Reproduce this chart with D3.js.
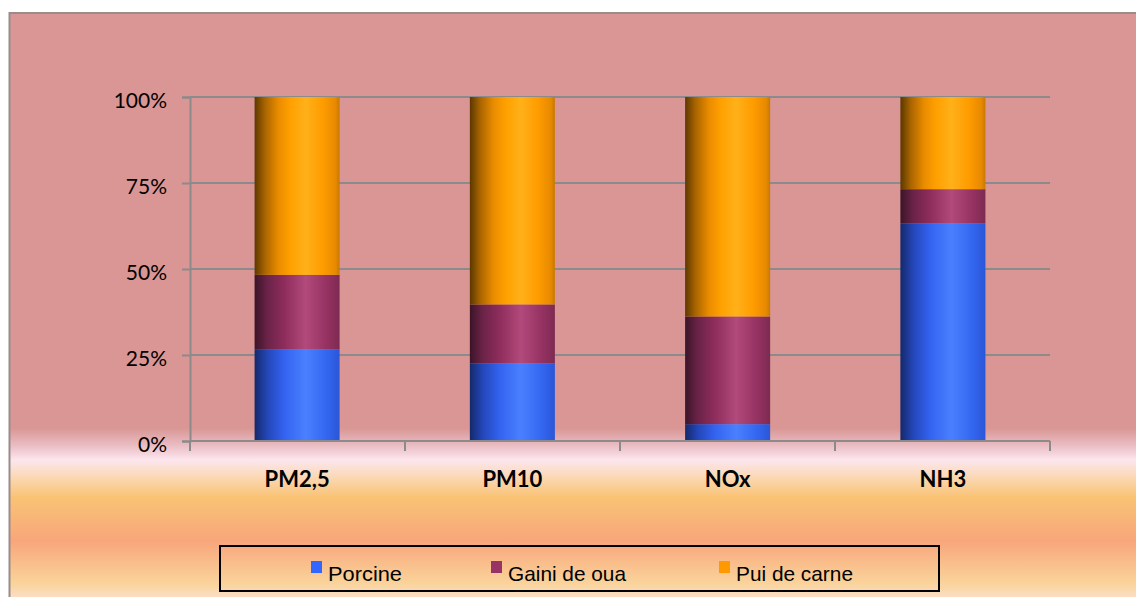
<!DOCTYPE html>
<html>
<head>
<meta charset="utf-8">
<script src="https://cdn.jsdelivr.net/npm/d3@7"></script>
<style>
  html, body { margin: 0; padding: 0; background: #ffffff; }
  svg { display: block; }
</style>
</head>
<body>
<svg id="chart" width="1136" height="597"></svg>
<script>
// ---- data ----
const categories = ["PM2,5", "PM10", "NOx", "NH3"];
const seriesNames = ["Porcine", "Gaini de oua", "Pui de carne"];
const porcine   = [26.7, 22.6, 4.9, 63.3];
const gainiDeOua = [21.6, 17.1, 31.3, 9.9];
const puiDeCarne = [51.7, 60.3, 63.8, 26.8];
const yTicks = [0, 0.25, 0.5, 0.75, 1];

const rows = categories.map((c, i) => ({
  cat: c,
  "Porcine": porcine[i],
  "Gaini de oua": gainiDeOua[i],
  "Pui de carne": puiDeCarne[i]
}));
rows.forEach(r => {
  const t = seriesNames.reduce((s, k) => s + r[k], 0);
  seriesNames.forEach(k => r[k] = r[k] / t);
});

const svg = d3.select("#chart");
const defs = svg.append("defs");

// background gradient
const bg = defs.append("linearGradient").attr("id", "bgGrad")
  .attr("gradientUnits", "userSpaceOnUse")
  .attr("x1", 0).attr("y1", 0).attr("x2", 0).attr("y2", 597);
[[0, "#D99694"], [428, "#D99694"], [445, "#E9BCC2"], [460, "#FCE6EF"],
 [476, "#FBD9B8"], [497, "#F9C375"], [541, "#F8A67B"], [583, "#FAD39A"], [597, "#FBDDC4"]]
  .forEach(([o, c]) => bg.append("stop").attr("offset", o / 597).attr("stop-color", c));

svg.append("rect").attr("x", 9).attr("y", 13).attr("width", 1140).attr("height", 600)
  .attr("fill", "url(#bgGrad)");
svg.append("line").attr("x1", 9.5).attr("x2", 9.5).attr("y1", 12).attr("y2", 597)
  .attr("stroke", "#9a8c8c").attr("stroke-width", 2);
svg.append("line").attr("x1", 9).attr("x2", 1136).attr("y1", 13).attr("y2", 13)
  .attr("stroke", "#9a8c8c").attr("stroke-width", 2);

// bar gradients
const barGrads = {
  "Porcine": [[0, "#14296b"], [0.15, "#2446b8"], [0.35, "#3363f0"], [0.6, "#4a80ff"], [0.85, "#3366f0"], [1, "#2b56d6"]],
  "Gaini de oua": [[0, "#3b1428"], [0.15, "#6b2348"], [0.35, "#8e2d5c"], [0.6, "#b24a7c"], [0.85, "#953262"], [1, "#7d2a52"]],
  "Pui de carne": [[0, "#5c3800"], [0.12, "#a86400"], [0.28, "#ea8c00"], [0.42, "#ffa000"], [0.6, "#ffb11a"], [0.8, "#ff9c00"], [0.95, "#e88a00"], [1, "#c87800"]]
};
const flatColors = { "Porcine": "#3366FF", "Gaini de oua": "#993366", "Pui de carne": "#FF9900" };
seriesNames.forEach((k, i) => {
  const g = defs.append("linearGradient").attr("id", "bar" + i)
    .attr("x1", 0).attr("y1", 0).attr("x2", 1).attr("y2", 0);
  barGrads[k].forEach(([o, c]) => g.append("stop").attr("offset", o).attr("stop-color", c));
});

// scales
const x = d3.scaleBand().domain(categories).range([190, 1050]).paddingInner(0.605).paddingOuter(0.3);
const y = d3.scaleLinear().domain([0, 1]).range([441, 97]);

// gridlines
svg.append("g").selectAll("line").data(yTicks.filter(t => t > 0)).join("line")
  .attr("x1", 190).attr("x2", 1050)
  .attr("y1", d => y(d)).attr("y2", d => y(d))
  .attr("stroke", "#8c8a8a").attr("stroke-width", 2);

// bars
const stack = d3.stack().keys(seriesNames)(rows);
svg.append("g").selectAll("g").data(stack).join("g")
  .attr("fill", (d, i) => `url(#bar${i})`)
  .selectAll("rect").data(d => d).join("rect")
  .attr("x", d => x(d.data.cat))
  .attr("width", x.bandwidth())
  .attr("y", d => y(d[1]))
  .attr("height", d => y(d[0]) - y(d[1]));

// y axis
const yAxis = d3.axisLeft(y).tickValues(yTicks).tickFormat(d3.format(".0%")).tickSize(8).tickPadding(15);
const gy = svg.append("g").attr("transform", "translate(190,0)").call(yAxis);
gy.select(".domain").attr("stroke", "#8c8a8a").attr("stroke-width", 2);
gy.selectAll(".tick line").attr("stroke", "#8c8a8a").attr("stroke-width", 2);
gy.selectAll(".tick text").attr("font-family", "Lato, 'Open Sans', sans-serif")
  .attr("font-size", 21).attr("fill", "#000").attr("dy", "0.48em");

// x axis
const xAxis = d3.axisBottom(x).tickSize(0).tickPadding(30);
const gx = svg.append("g").attr("transform", "translate(0,441)").call(xAxis);
gx.select(".domain").remove();
gx.append("line").attr("x1", 190).attr("x2", 1050).attr("y1", 0).attr("y2", 0)
  .attr("stroke", "#8c8a8a").attr("stroke-width", 2);
const step = (1050 - 190) / categories.length;
gx.selectAll(".bnd").data(d3.range(categories.length + 1)).join("line")
  .attr("class", "bnd")
  .attr("x1", i => 190 + i * step).attr("x2", i => 190 + i * step)
  .attr("y1", 0).attr("y2", 10)
  .attr("stroke", "#8c8a8a").attr("stroke-width", 2);
gx.selectAll(".tick text").attr("font-family", "Lato, 'Open Sans', sans-serif")
  .attr("font-weight", "bold").attr("font-size", 22).attr("fill", "#000").attr("dy", "0.74em");

// legend
const lg = svg.append("g");
lg.append("rect").attr("x", 220).attr("y", 546).attr("width", 719).attr("height", 45)
  .attr("fill", "none").attr("stroke", "#000").attr("stroke-width", 2);
const legendX = [311, 491, 719];
const legendW = [74, 118, 117];
const li = lg.selectAll(".li").data(seriesNames).join("g").attr("class", "li");
li.append("rect").attr("x", (d, i) => legendX[i]).attr("y", 561).attr("width", 11).attr("height", 12)
  .attr("fill", d => flatColors[d]);
li.append("text").attr("x", (d, i) => legendX[i] + 17).attr("y", 581)
  .attr("font-family", "'Liberation Sans', Arial, sans-serif").attr("font-size", 21)
  .attr("textLength", (d, i) => legendW[i]).attr("lengthAdjust", "spacingAndGlyphs")
  .attr("fill", "#000").text(d => d);
</script>
</body>
</html>
